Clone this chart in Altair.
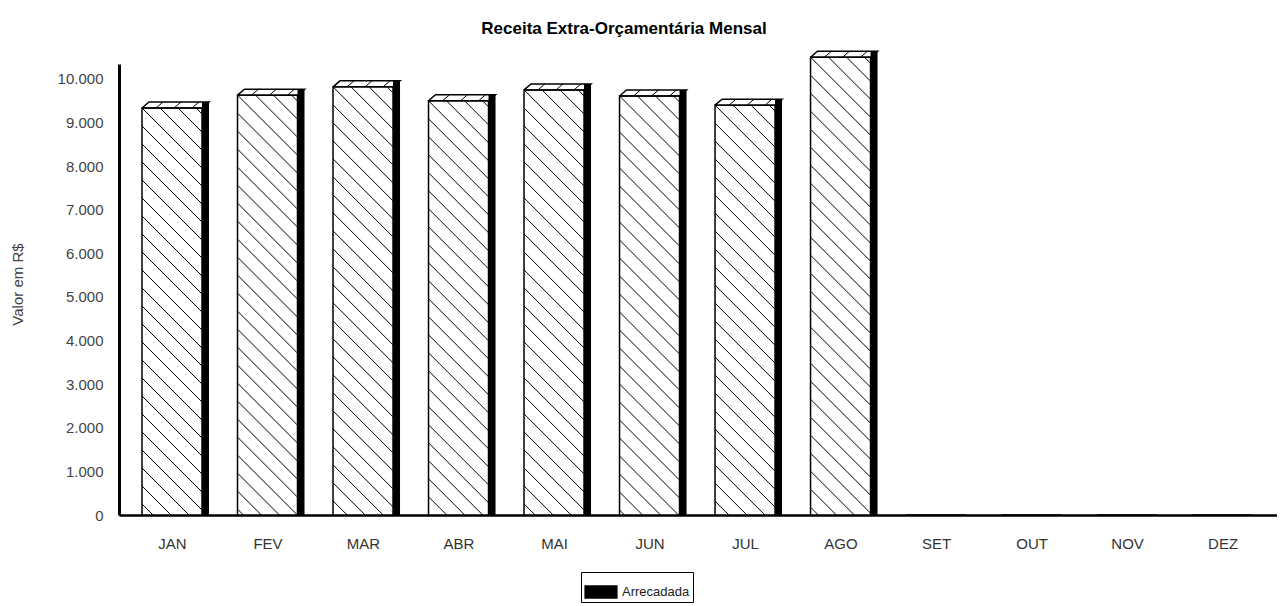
import json
import altair as alt
import pandas as pd

# ---- data ----
months = ["JAN", "FEV", "MAR", "ABR", "MAI", "JUN", "JUL", "AGO", "SET", "OUT", "NOV", "DEZ"]
values = [9335, 9630, 9820, 9500, 9750, 9610, 9400, 10500, 0, 0, 0, 0]
series_name = ["Arrecadada"] * 12
y_ticks = list(range(0, 10001, 1000))
title_text = "Receita Extra-Orçamentária Mensal"
y_title = "Valor em R$"

# ---- geometry / style ----
W_PX, H_PX = 1158, 451
X_DOMAIN = [-0.555, 11.57]
Y_DOMAIN = [0, 10344]
PX = W_PX / (X_DOMAIN[1] - X_DOMAIN[0])   # px per x unit
PY = H_PX / (Y_DOMAIN[1] - Y_DOMAIN[0])   # px per y unit
FRONT_PX = 60
HALF = FRONT_PX / PX / 2
DX = 7 / PX
DY = 6 / PY
HATCH = 18
FONT = "Liberation Sans"

df = pd.DataFrame({"i": list(range(12)), "month": months, "value": values,
                   "series": series_name})
df["zero"] = 0

xs = alt.Scale(domain=X_DOMAIN, nice=False, zero=False)
ys = alt.Scale(domain=Y_DOMAIN, nice=False)

x_axis = alt.Axis(values=list(range(12)), labelExpr=f"{json.dumps(months)}[datum.value]",
                  title=None, grid=False, ticks=False, labelPadding=21, labelFontSize=15,
                  labelColor="#333", labelFont=FONT, domainColor="black", domainWidth=2.5,
                  labelOverlap=False, labelFlush=False)
y_axis = alt.Axis(values=y_ticks, labelExpr="replace(format(datum.value, ','), ',', '.')",
                  title=y_title, titleFont=FONT, titleFontSize=15, titleFontWeight="normal",
                  titleColor="#444", titleX=-102, titleY=220, titleAngle=270,
                  titleAlign="center", titleBaseline="middle",
                  grid=False, ticks=False, labelPadding=16, labelFontSize=15, labelColor="#444",
                  labelFont=FONT, domainColor="black", domainWidth=3)


def X(field):
    return alt.X(field, type="quantitative", scale=xs, axis=x_axis)


def Y(field):
    return alt.Y(field, type="quantitative", scale=ys, axis=y_axis)


base = alt.Chart(df)

# front face of each bar
front = base.transform_calculate(
    xl=f"datum.i - {HALF}", xr=f"datum.i + {HALF}"
).mark_rect(fill="white", stroke="black", strokeWidth=1.5).encode(
    x=X("xl"), x2="xr", y=Y("value"), y2="zero"
)

# diagonal hatching inside the front face
hatch = base.transform_filter("datum.value > 0").transform_calculate(
    H=f"datum.value * {PY}", k="sequence(0, 45)"
).transform_flatten(["k"]).transform_calculate(
    c=f"datum.k * {HATCH} - {FRONT_PX} + 6"
).transform_calculate(
    u0="max(0, -datum.c)"
).transform_calculate(
    u1=f"min({FRONT_PX}, datum.H - datum.c)"
).transform_filter("datum.u1 > datum.u0").transform_calculate(
    hx0=f"datum.i - {HALF} + datum.u0 / {PX}",
    hx1=f"datum.i - {HALF} + datum.u1 / {PX}",
    hy0=f"datum.value - (datum.u0 + datum.c) / {PY}",
    hy1=f"datum.value - (datum.u1 + datum.c) / {PY}",
).mark_rule(color="black", strokeWidth=1).encode(
    x=X("hx0"), x2="hx1", y=Y("hy0"), y2="hy1"
)

# dark side face (also carries the legend)
side = base.transform_filter("datum.value > 0").transform_calculate(
    sx0=f"datum.i + {HALF}", sx1=f"datum.i + {HALF} + {DX}", top=f"datum.value + {DY}"
).mark_rect(stroke=None).encode(
    x=X("sx0"), x2="sx1", y=Y("top"), y2="zero",
    color=alt.Color("series:N", scale=alt.Scale(range=["black"]),
                    legend=alt.Legend(orient="none", legendX=462, legendY=508, title=None,
                                      strokeColor="black", fillColor="white", padding=3,
                                      symbolType="M-1,-0.4H1V0.4H-1Z", symbolSize=1100,
                                      symbolStrokeWidth=0, labelFontSize=13, labelFont=FONT,
                                      labelColor="#222", cornerRadius=0))
)

# top face outline
top = base.transform_filter("datum.value > 0").transform_calculate(
    p="[0, 1, 2, 3, 4]"
).transform_flatten(["p"]).transform_calculate(
    tx=(f"datum.i + (datum.p == 0 || datum.p == 4 ? -{HALF} : datum.p == 1 ? -{HALF} + {DX}"
        f" : datum.p == 2 ? {HALF} + {DX} : {HALF})"),
    ty=f"datum.value + (datum.p == 1 || datum.p == 2 ? {DY} : 0)",
).mark_line(color="black", strokeWidth=1.5).encode(
    x=X("tx"), y=Y("ty"), detail="month:N", order="p:Q"
)

# short hatch strokes on the top face
top_hatch = base.transform_filter("datum.value > 0").transform_calculate(
    k="[0, 1, 2]"
).transform_flatten(["k"]).transform_calculate(
    a0=f"datum.i - {HALF} + ({HATCH} * datum.k + 14) / {PX}",
    a1=f"datum.i - {HALF} + ({HATCH} * datum.k + 21) / {PX}",
    b0="datum.value",
    b1=f"datum.value + {DY}",
).mark_rule(color="black", strokeWidth=1).encode(
    x=X("a0"), x2="a1", y=Y("b0"), y2="b1"
)

chart = alt.layer(front, hatch, side, top, top_hatch).properties(
    width=W_PX, height=H_PX,
    title=alt.TitleParams(title_text, font=FONT, fontSize=17, fontWeight="bold",
                          color="black", anchor="middle", frame="group", dx=-74, offset=10),
    padding={"left": 2, "top": 12, "right": 0, "bottom": 0},
    background="white",
).configure_view(stroke=None)

chart.save("out.html", embed_options={"renderer": "svg", "actions": False})
